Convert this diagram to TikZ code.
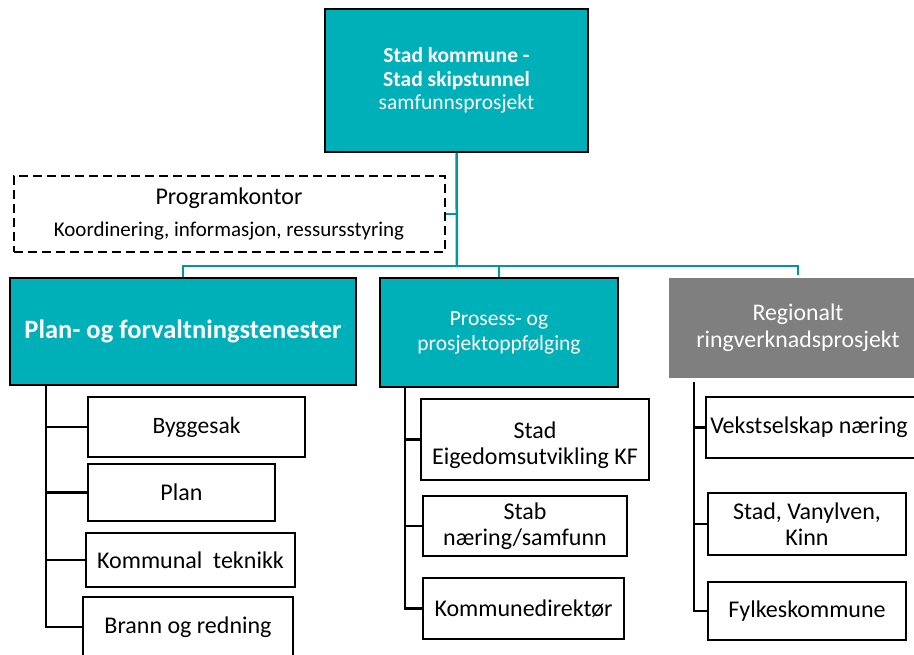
\documentclass[tikz,border=0pt]{standalone}
\usepackage{fontspec}
\setmainfont{Carlito}
\definecolor{tealfill}{RGB}{0,176,185}
\definecolor{tealline}{RGB}{0,150,155}
\definecolor{grayfill}{RGB}{127,127,127}
\begin{document}
\begin{tikzpicture}[x=1pt,y=-1pt,
  tealbox/.style={draw=black,line width=2.5pt,fill=tealfill,text=white,inner sep=0pt,align=center},
  graybox/.style={fill=grayfill,text=white,inner sep=0pt,align=center},
  childbox/.style={draw=black,line width=2.2pt,fill=white,inner sep=0pt,align=center,
    font=\fontsize{24}{26}\selectfont},
  dashbox/.style={draw=black,line width=2pt,dash pattern=on 9pt off 5pt,inner sep=0pt,align=center},
  tconn/.style={draw=tealline,line width=2.5pt},
  bconn/.style={draw=black,line width=2.5pt},
  txt/.style={inner sep=0pt,align=center,font=\fontsize{24}{26}\selectfont}
]
\useasboundingbox (0,0) rectangle (914,655);
\clip (0,0) rectangle (914,655);
\fill[white] (0,0) rectangle (914,655);

% top
\node[tealbox,minimum width=263pt,minimum height=143pt,font=\fontsize{21.5}{23.5}\selectfont]
  (top) at (456.5,80.5) {\textbf{Stad kommune -}\\\textbf{Stad skipstunnel}\\samfunnsprosjekt};

% programkontor
\node[dashbox,minimum width=431pt,minimum height=76pt,font=\fontsize{21}{25}\selectfont]
  (prog) at (229,214) {{\fontsize{24}{25}\selectfont Programkontor}\\[7pt]Koordinering, informasjon, ressursstyring};

% main boxes
\node[tealbox,minimum width=346pt,minimum height=107pt,font=\bfseries\fontsize{26.5}{30}\selectfont]
  (pf) at (183,331.5) {Plan- og forvaltningstenester};
\node[tealbox,minimum width=238pt,minimum height=109pt,font=\fontsize{21.5}{25}\selectfont]
  (pp) at (499,332.5) {Prosess- og\\prosjektoppfølging};
\node[graybox,minimum width=258pt,minimum height=100pt,font=\fontsize{23.8}{27}\selectfont]
  (reg) at (798,328) {Regionalt\\ringverknadsprosjekt};

% teal connectors
\coordinate (hub) at (457,266);
\coordinate (rtop) at (798,275);
\draw[tconn] (top.south) -- (hub);
\draw[tconn] (prog.east) -- (prog.east -| hub);
\draw[tconn] (pf.north) |- (rtop |- hub) -- (rtop);
\draw[tconn] (pp.north) -- (pp.north |- hub);

% left children
\node[childbox,minimum width=217pt,minimum height=60pt,font=\fontsize{23.5}{26}\selectfont] (bygg) at (196.5,427) {Byggesak};
\node[childbox,minimum width=187pt,minimum height=57pt] (plan) at (181.5,492.5) {Plan};
\node[childbox,minimum width=209pt,minimum height=54pt] (komm) at (190.5,560) {Kommunal~~teknikk};
\node[childbox,minimum width=210pt,minimum height=60pt] (brann) at (188,627) {Brann og redning};

% middle children
\node[childbox,minimum width=228pt,minimum height=81pt] (seu) at (535,439.5) {};
\node[txt] (seut) at (535,445) {Stad\\Eigedomsutvikling KF};
\node[childbox,minimum width=204pt,minimum height=60pt] (stab) at (525,526) {Stab\\næring/samfunn};
\node[childbox,minimum width=201pt,minimum height=61pt] (kdir) at (523.5,608.5) {Kommunedirektør};

% right children
\node[childbox,minimum width=210pt,minimum height=61pt] (vekst) at (811,427.5) {};
\node[txt] (vekstt) at (809,427) {Vekstselskap næring};
\node[childbox,minimum width=198pt,minimum height=62pt] (svk) at (807,524) {Stad, Vanylven,\\Kinn};
\node[childbox,minimum width=198pt,minimum height=58pt] (fylke) at (807,611) {Fylkeskommune};

% black connectors
\coordinate (lv) at (46,385);
\draw[bconn] (lv) |- (brann.west);
\draw[bconn] (lv |- bygg.west) -- (bygg.west);
\draw[bconn] (lv |- plan.west) -- (plan.west);
\draw[bconn] (lv |- komm.west) -- (komm.west);

\coordinate (mv) at (405,387);
\draw[bconn] (mv) |- (kdir.west);
\draw[bconn] (mv |- seu.west) -- (seu.west);
\draw[bconn] (mv |- stab.west) -- (stab.west);

\coordinate (rv) at (694,382);
\draw[bconn] (rv) |- (fylke.west);
\draw[bconn] (rv |- vekst.west) -- (vekst.west);
\draw[bconn] (rv |- svk.west) -- (svk.west);
\end{tikzpicture}
\end{document}
